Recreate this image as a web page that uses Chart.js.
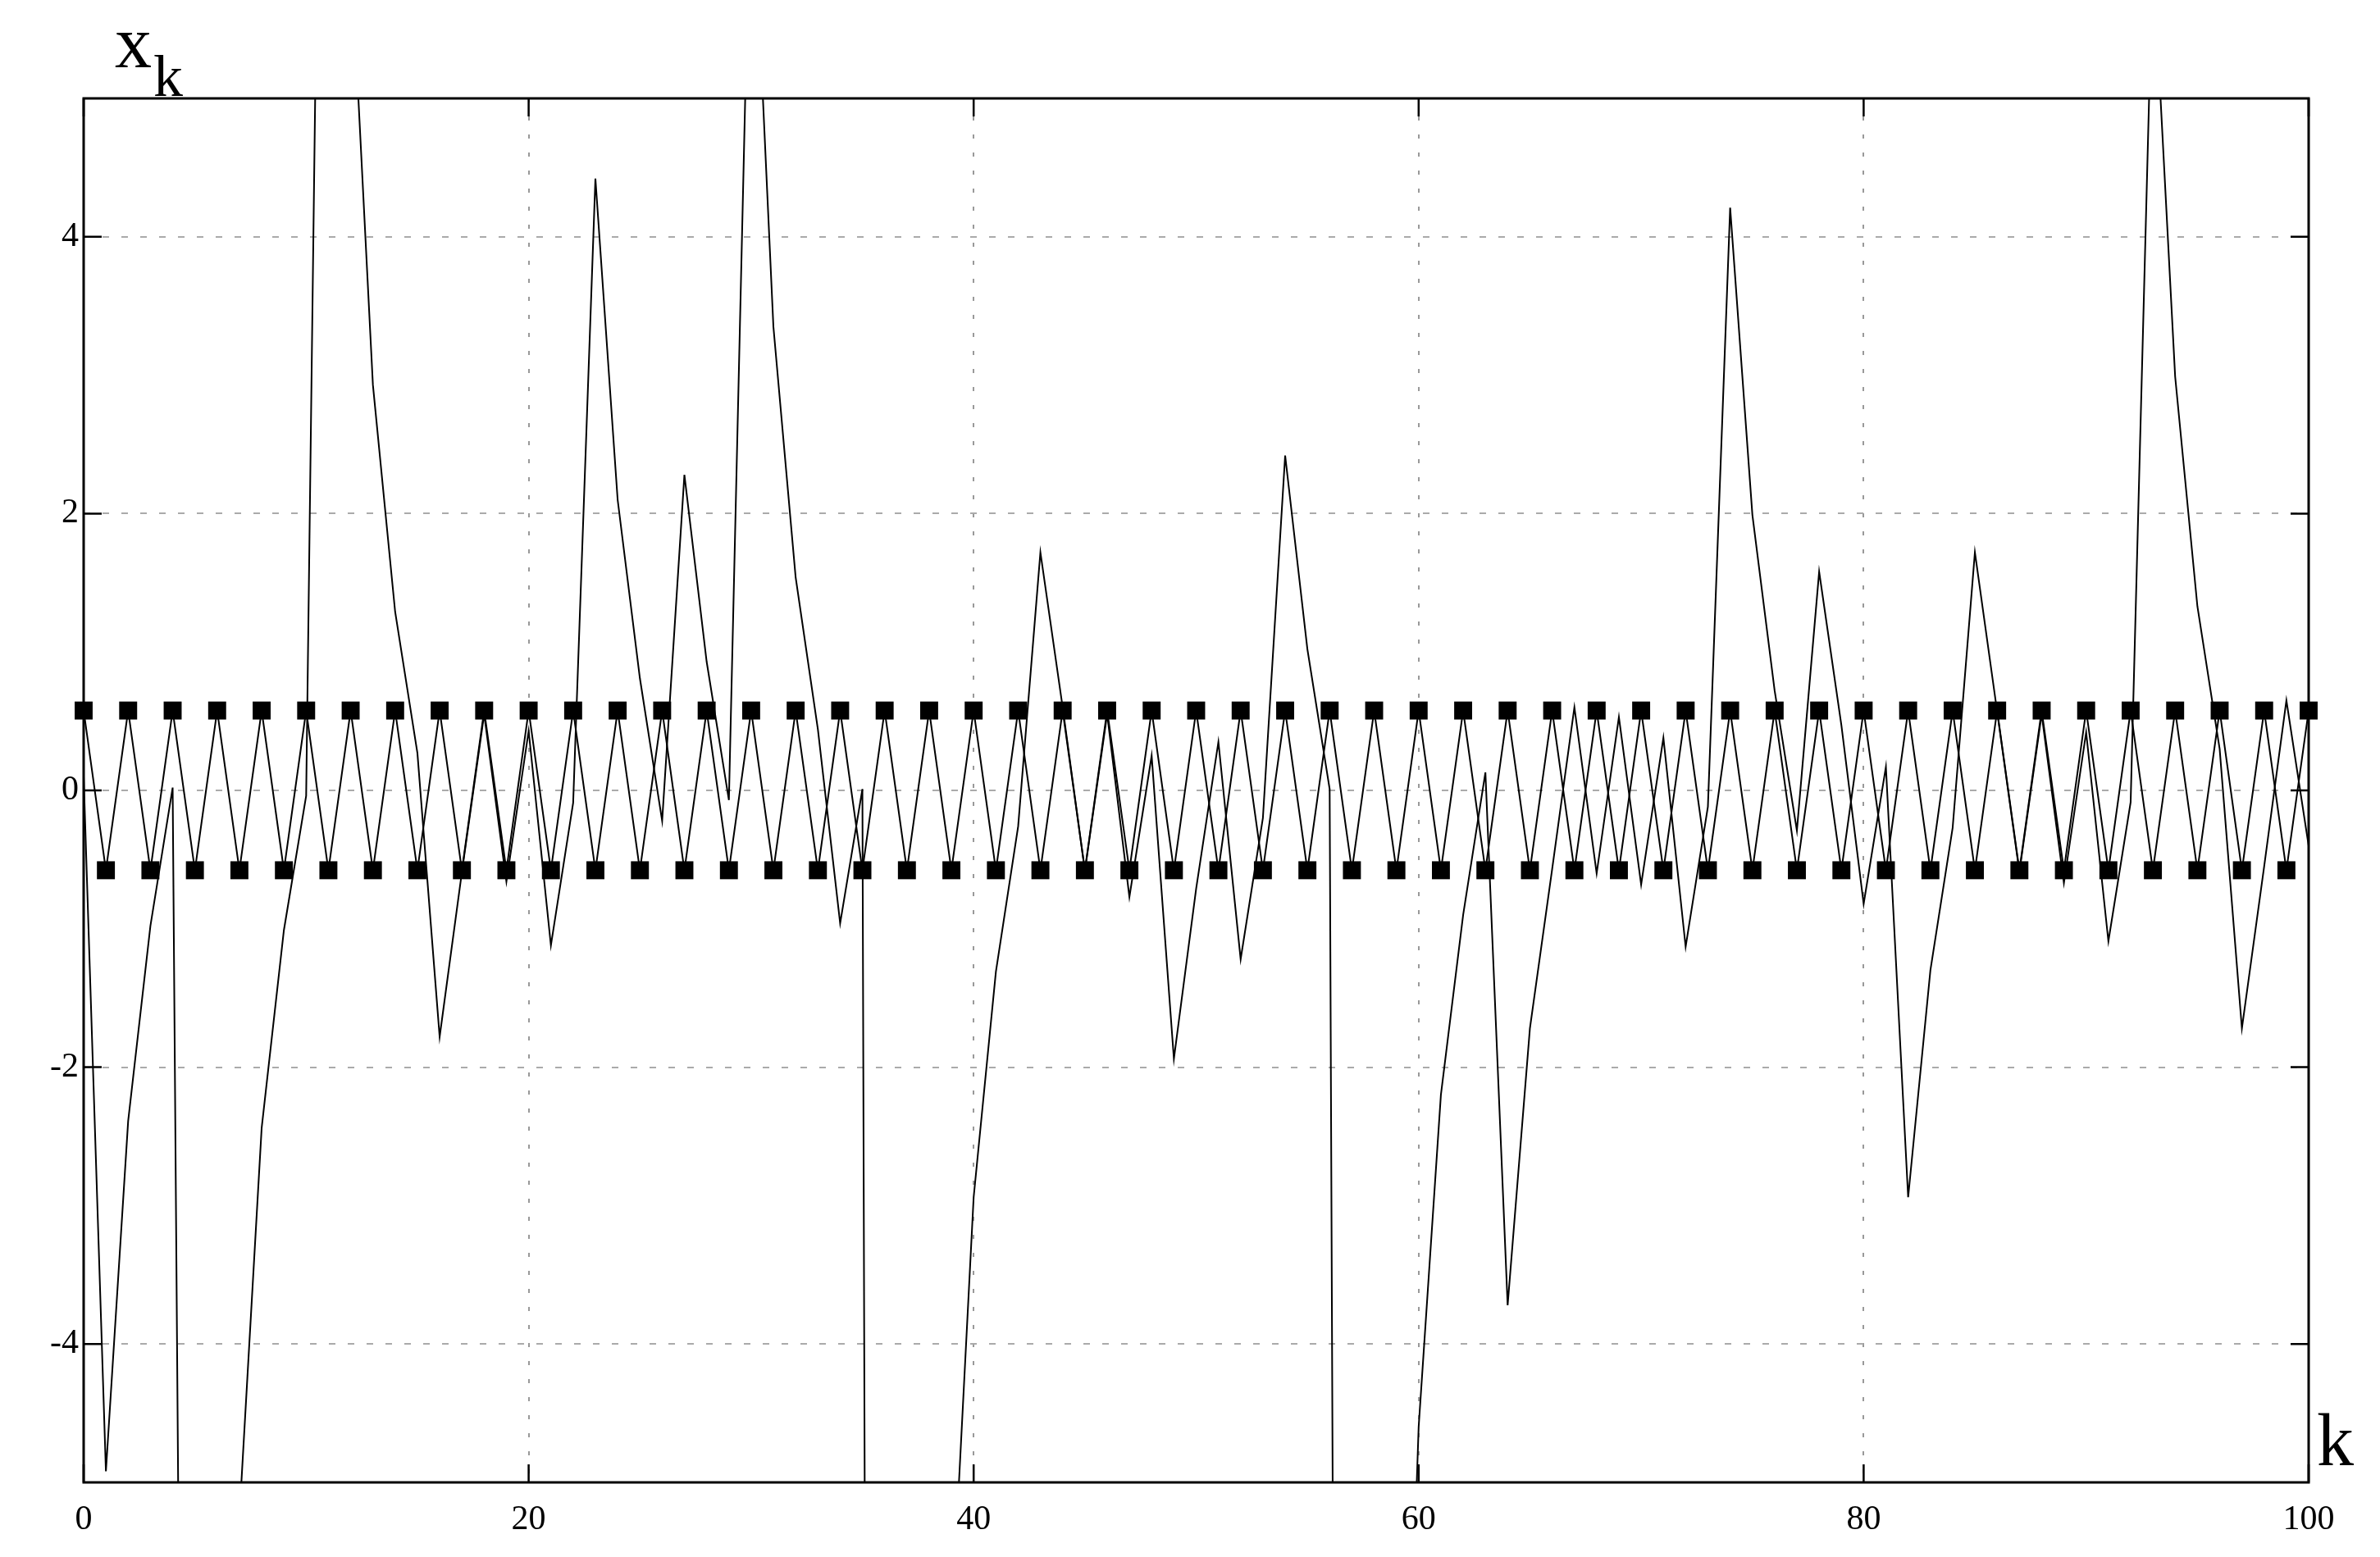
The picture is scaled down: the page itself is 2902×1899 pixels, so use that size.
<!DOCTYPE html>
<html>
<head>
<meta charset="utf-8">
<script src="https://cdn.jsdelivr.net/npm/chart.js@4.4.1/dist/chart.umd.min.js"></script>
<style>
    html, body { margin: 0; padding: 0; background: #fff; }
    canvas { display: block; }
</style>
</head>
<body>
<canvas id="chart" width="2902" height="1899"></canvas>
<script>
// iteration index k
const kValues = [0, 1, 2, 3, 4, 5, 6, 7, 8, 9, 10, 11, 12, 13, 14, 15, 16, 17, 18, 19,
    20, 21, 22, 23, 24, 25, 26, 27, 28, 29, 30, 31, 32, 33, 34, 35, 36, 37, 38, 39,
    40, 41, 42, 43, 44, 45, 46, 47, 48, 49, 50, 51, 52, 53, 54, 55, 56, 57, 58, 59,
    60, 61, 62, 63, 64, 65, 66, 67, 68, 69, 70, 71, 72, 73, 74, 75, 76, 77, 78, 79,
    80, 81, 82, 83, 84, 85, 86, 87, 88, 89, 90, 91, 92, 93, 94, 95, 96, 97, 98, 99, 100];

// irregular orbit (off-scale ones estimated)
const orbitValues = [0.1, -4.92, -2.39, -0.98, 0.02, -20.3, -10.2, -5.25, -2.44, -1.01,
    -0.04, 12.4, 6.1, 2.93, 1.29, 0.27, -1.78, -0.59, 0.55, -0.66,
    0.43, -1.12, -0.09, 4.42, 2.1, 0.81, -0.22, 2.28, 0.93, -0.07,
    6.85, 3.35, 1.54, 0.44, -0.96, 0.01, -48.8, -24.4, -12.2, -6.06,
    -2.94, -1.31, -0.26, 1.72, 0.6, -0.58, 0.55, -0.77, 0.25, -1.94,
    -0.71, 0.35, -1.22, -0.2, 2.42, 1.02, 0.01, -37, -18.5, -9.3,
    -4.6, -2.2, -0.9, 0.13, -3.72, -1.72, -0.57, 0.6, -0.6, 0.53,
    -0.68, 0.38, -1.13, -0.118, 4.21, 1.99, 0.72, -0.29, 1.58, 0.47,
    -0.82, 0.17, -2.94, -1.3, -0.27, 1.72, 0.57, -0.59, 0.55, -0.67,
    0.42, -1.09, -0.085, 6.05, 2.99, 1.33, 0.3, -1.72, -0.55, 0.65, -0.4];

// period-2 cycle, drawn with squares
const cycleValues = [0.577, -0.577, 0.577, -0.577, 0.577, -0.577, 0.577, -0.577, 0.577, -0.577,
    0.577, -0.577, 0.577, -0.577, 0.577, -0.577, 0.577, -0.577, 0.577, -0.577,
    0.577, -0.577, 0.577, -0.577, 0.577, -0.577, 0.577, -0.577, 0.577, -0.577,
    0.577, -0.577, 0.577, -0.577, 0.577, -0.577, 0.577, -0.577, 0.577, -0.577,
    0.577, -0.577, 0.577, -0.577, 0.577, -0.577, 0.577, -0.577, 0.577, -0.577,
    0.577, -0.577, 0.577, -0.577, 0.577, -0.577, 0.577, -0.577, 0.577, -0.577,
    0.577, -0.577, 0.577, -0.577, 0.577, -0.577, 0.577, -0.577, 0.577, -0.577,
    0.577, -0.577, 0.577, -0.577, 0.577, -0.577, 0.577, -0.577, 0.577, -0.577,
    0.577, -0.577, 0.577, -0.577, 0.577, -0.577, 0.577, -0.577, 0.577, -0.577,
    0.577, -0.577, 0.577, -0.577, 0.577, -0.577, 0.577, -0.577, 0.577, -0.577, 0.577];

const xTickValues = [0, 20, 40, 60, 80, 100];
const yTickValues = [-4, -2, 0, 2, 4];

const serif = "'Liberation Serif', 'DejaVu Serif', serif";

function toPoints(ys) {
    return kValues.map(function (k, i) { return {x: k, y: ys[i]}; });
}

// frame, inward tick marks and the x_k / k labels
const framePlugin = {
    id: 'frame',
    afterDraw: function (chart) {
        const c = chart.ctx;
        const a = chart.chartArea;
        const xs = chart.scales.x;
        const ys = chart.scales.y;
        const len = 22;
        c.save();
        c.strokeStyle = '#000';
        c.lineWidth = 2.5;
        c.beginPath();
        yTickValues.forEach(function (v) {
            const py = ys.getPixelForValue(v);
            c.moveTo(a.left, py); c.lineTo(a.left + len, py);
            c.moveTo(a.right - len, py); c.lineTo(a.right, py);
        });
        xTickValues.forEach(function (v) {
            const px = xs.getPixelForValue(v);
            c.moveTo(px, a.bottom); c.lineTo(px, a.bottom - len);
            c.moveTo(px, a.top); c.lineTo(px, a.top + len);
        });
        c.stroke();
        c.lineWidth = 3;
        c.strokeRect(a.left, a.top, a.right - a.left, a.bottom - a.top);

        c.fillStyle = '#000';
        c.textAlign = 'left';
        c.textBaseline = 'alphabetic';
        c.font = '90px ' + serif;
        c.fillText('x', a.left + 38, a.top - 38);
        c.fillText('k', a.right + 10, a.bottom - 21);
        c.font = '72px ' + serif;
        c.fillText('k', a.left + 85, a.top - 3);
        c.restore();
    }
};

new Chart(document.getElementById('chart').getContext('2d'), {
    type: 'line',
    data: {
        datasets: [{
            label: 'orbit',
            data: toPoints(orbitValues),
            borderColor: '#000',
            borderWidth: 2,
            pointRadius: 0,
            tension: 0
        }, {
            label: 'cycle',
            data: toPoints(cycleValues),
            borderColor: '#000',
            borderWidth: 2,
            pointStyle: 'rect',
            pointRadius: 15.5,
            pointBorderWidth: 0,
            pointBackgroundColor: '#000',
            tension: 0,
            clip: false
        }]
    },
    options: {
        responsive: false,
        animation: false,
        events: [],
        layout: { padding: { top: 120, right: 87, left: 0, bottom: 0 } },
        plugins: {
            legend: { display: false },
            tooltip: { enabled: false }
        },
        scales: {
            x: {
                type: 'linear',
                min: 0,
                max: 100,
                afterBuildTicks: function (scale) {
                    scale.ticks = xTickValues.map(function (v) { return {value: v}; });
                },
                afterFit: function (scale) { scale.height = 91; },
                grid: { color: '#999', lineWidth: 2, drawTicks: false },
                border: { display: false, dash: [5, 17] },
                ticks: {
                    color: '#000',
                    font: { family: serif, size: 42 },
                    padding: 21,
                    maxRotation: 0
                }
            },
            y: {
                type: 'linear',
                min: -5,
                max: 5,
                afterBuildTicks: function (scale) {
                    scale.ticks = yTickValues.map(function (v) { return {value: v}; });
                },
                afterFit: function (scale) { scale.width = 102; },
                grid: { color: '#aaa', lineWidth: 2, drawTicks: false },
                border: { display: false, dash: [8, 15] },
                ticks: {
                    color: '#000',
                    font: { family: serif, size: 42 },
                    padding: 6
                }
            }
        }
    },
    plugins: [framePlugin]
});
</script>
</body>
</html>
